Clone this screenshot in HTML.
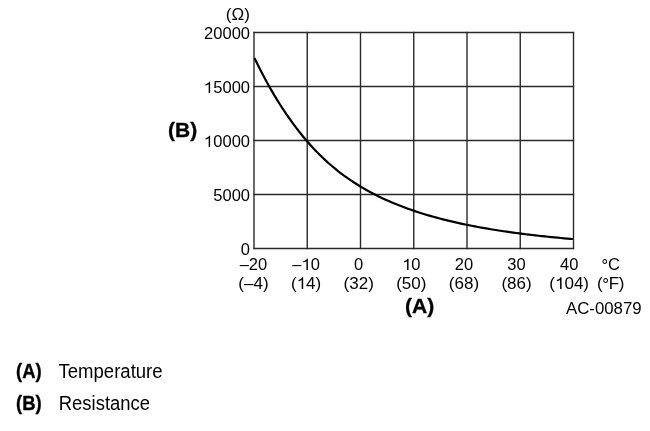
<!DOCTYPE html>
<html><head><meta charset="utf-8"><style>
html,body{margin:0;padding:0;background:#fff;}
body{width:650px;height:431px;overflow:hidden;position:relative;}
svg{position:absolute;left:0;top:0;will-change:transform;}
text{font-family:"Liberation Sans",sans-serif;fill:#000;}
</style></head><body>
<svg width="650" height="431" viewBox="0 0 650 431">
<g stroke="#2a2a2a" stroke-width="1.4" fill="none">
<line x1="254.00" y1="31.85" x2="254.00" y2="249.15"/>
<line x1="307.25" y1="31.85" x2="307.25" y2="249.15"/>
<line x1="360.50" y1="31.85" x2="360.50" y2="249.15"/>
<line x1="413.75" y1="31.85" x2="413.75" y2="249.15"/>
<line x1="467.00" y1="31.85" x2="467.00" y2="249.15"/>
<line x1="520.25" y1="31.85" x2="520.25" y2="249.15"/>
<line x1="573.50" y1="31.85" x2="573.50" y2="249.15"/>
</g>
<g stroke="#2a2a2a" stroke-width="1.3" fill="none">
<line x1="253.35" y1="32.50" x2="574.15" y2="32.50"/>
<line x1="253.35" y1="86.50" x2="574.15" y2="86.50"/>
<line x1="253.35" y1="140.50" x2="574.15" y2="140.50"/>
<line x1="253.35" y1="194.50" x2="574.15" y2="194.50"/>
<line x1="253.35" y1="248.50" x2="574.15" y2="248.50"/>
</g>
<path d="M254.80,58.63 L257.99,65.17 L261.18,71.49 L264.37,77.58 L267.56,83.46 L270.74,89.13 L273.93,94.61 L277.12,99.89 L280.31,104.99 L283.50,109.91 L286.69,114.66 L289.88,119.24 L293.07,123.66 L296.26,127.91 L299.45,132.02 L302.63,135.98 L305.82,139.79 L309.01,143.46 L312.20,147.00 L315.39,150.40 L318.58,153.67 L321.77,156.81 L324.96,159.83 L328.15,162.74 L331.33,165.53 L334.52,168.21 L337.71,170.78 L340.90,173.26 L344.09,175.64 L347.28,177.93 L350.47,180.14 L353.66,182.26 L356.85,184.30 L360.04,186.26 L363.22,188.15 L366.41,189.97 L369.60,191.73 L372.79,193.43 L375.98,195.06 L379.17,196.64 L382.36,198.16 L385.55,199.63 L388.74,201.05 L391.92,202.43 L395.11,203.76 L398.30,205.05 L401.49,206.29 L404.68,207.50 L407.87,208.67 L411.06,209.80 L414.25,210.89 L417.44,211.95 L420.63,212.98 L423.81,213.98 L427.00,214.94 L430.19,215.88 L433.38,216.78 L436.57,217.66 L439.76,218.52 L442.95,219.34 L446.14,220.15 L449.33,220.93 L452.51,221.68 L455.70,222.42 L458.89,223.13 L462.08,223.82 L465.27,224.49 L468.46,225.15 L471.65,225.78 L474.84,226.40 L478.03,227.00 L481.22,227.58 L484.40,228.15 L487.59,228.70 L490.78,229.23 L493.97,229.75 L497.16,230.26 L500.35,230.75 L503.54,231.23 L506.73,231.70 L509.92,232.15 L513.10,232.60 L516.29,233.03 L519.48,233.45 L522.67,233.85 L525.86,234.25 L529.05,234.64 L532.24,235.02 L535.43,235.38 L538.62,235.74 L541.81,236.09 L544.99,236.43 L548.18,236.76 L551.37,237.08 L554.56,237.39 L557.75,237.70 L560.94,238.00 L564.13,238.29 L567.32,238.57 L570.51,238.84 L572.10,238.98" stroke="#000" stroke-width="2.2" fill="none" stroke-linejoin="round" stroke-linecap="round"/>
<g font-size="16.5">
<text x="250.00" y="38.80" text-anchor="end">20000</text>
<text x="250.00" y="92.80" text-anchor="end">&#8199;5000</text>
<text x="250.00" y="146.80" text-anchor="end">&#8199;0000</text>
<text x="250.00" y="200.80" text-anchor="end">5000</text>
<text x="250.00" y="254.80" text-anchor="end">0</text>
<text x="253.45" y="270.20" text-anchor="middle">&#8211;20</text>
<text x="253.45" y="289.30" text-anchor="middle" font-size="17">(&#8211;4)</text>
<text x="306.07" y="270.20" text-anchor="middle">&#8211;&#8199;0</text>
<text x="306.07" y="289.30" text-anchor="middle" font-size="17">(&#8199;4)</text>
<text x="358.69" y="270.20" text-anchor="middle">0</text>
<text x="358.69" y="289.30" text-anchor="middle" font-size="17">(32)</text>
<text x="411.31" y="270.20" text-anchor="middle">&#8199;0</text>
<text x="411.31" y="289.30" text-anchor="middle" font-size="17">(50)</text>
<text x="463.93" y="270.20" text-anchor="middle">20</text>
<text x="463.93" y="289.30" text-anchor="middle" font-size="17">(68)</text>
<text x="516.55" y="270.20" text-anchor="middle">30</text>
<text x="516.55" y="289.30" text-anchor="middle" font-size="17">(86)</text>
<text x="569.17" y="270.20" text-anchor="middle">40</text>
<text x="569.17" y="289.30" text-anchor="middle" font-size="17">(&#8199;04)</text>
<text x="225.8" y="20.3" font-size="17">(&#937;)</text>
<text x="601.4" y="270.2"><tspan dy="0.8">&#176;</tspan><tspan dy="-0.8">C</tspan></text>
<text x="597" y="289.3" font-size="17" letter-spacing="-0.4">(<tspan dy="0.8">&#176;</tspan><tspan dy="-0.8">F)</tspan></text>
<text x="566" y="314.0" font-size="16.8">AC-00879</text>
</g>
<g fill="#000">
<path transform="translate(204.317,93.000) scale(0.008057,-0.008057)" d="M540 0H720V1409H590Q545 1290 430 1195Q310 1105 150 1075V925Q380 960 540 1085Z"/>
<path transform="translate(204.317,147.000) scale(0.008057,-0.008057)" d="M540 0H720V1409H590Q545 1290 430 1195Q310 1105 150 1075V925Q380 960 540 1085Z"/>
<path transform="translate(302.082,270.000) scale(0.008057,-0.008057)" d="M540 0H720V1409H590Q545 1290 430 1195Q310 1105 150 1075V925Q380 960 540 1085Z"/>
<path transform="translate(297.215,289.000) scale(0.008301,-0.008301)" d="M540 0H720V1409H590Q545 1290 430 1195Q310 1105 150 1075V925Q380 960 540 1085Z"/>
<path transform="translate(402.733,270.000) scale(0.008057,-0.008057)" d="M540 0H720V1409H590Q545 1290 430 1195Q310 1105 150 1075V925Q380 960 540 1085Z"/>
<path transform="translate(555.588,289.000) scale(0.008301,-0.008301)" d="M540 0H720V1409H590Q545 1290 430 1195Q310 1105 150 1075V925Q380 960 540 1085Z"/>
</g>
<g font-weight="bold" font-size="21" stroke="#000" stroke-width="0.35">
<text x="168.1" y="136.9">(B)</text>
<text x="405.1" y="312.9">(A)</text>
</g>
<g font-size="19.5">
<text x="16.0" y="377.8" font-size="19.5" textLength="25.6" lengthAdjust="spacingAndGlyphs" font-weight="bold" stroke="#000" stroke-width="0.35">(A)</text>
<text x="58.5" y="377.8" textLength="104.1" lengthAdjust="spacingAndGlyphs">Temperature</text>
<text x="16.0" y="409.9" font-size="19.5" textLength="25.6" lengthAdjust="spacingAndGlyphs" font-weight="bold" stroke="#000" stroke-width="0.35">(B)</text>
<text x="58.8" y="409.9" textLength="91.2" lengthAdjust="spacingAndGlyphs">Resistance</text>
</g>
</svg>
</body></html>
